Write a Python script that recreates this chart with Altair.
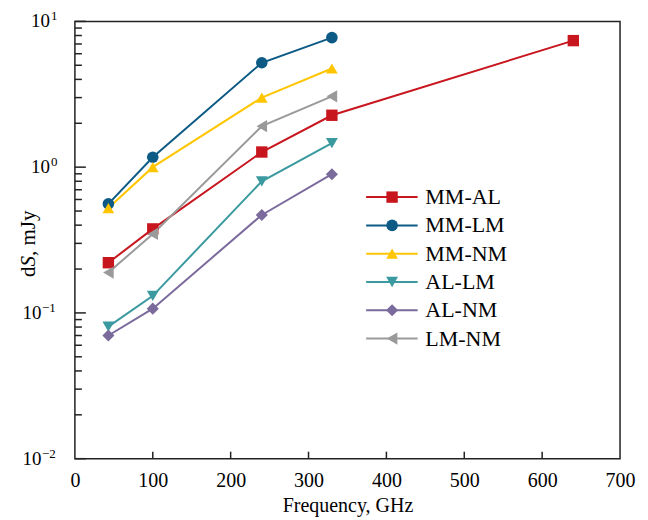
import altair as alt
import pandas as pd

# ---- data ----
series_names = ["MM-AL", "MM-LM", "MM-NM", "AL-LM", "AL-NM", "LM-NM"]
freq_mm_al = [43, 100, 240, 330, 640]
val_mm_al = [0.221, 0.377, 1.27, 2.27, 7.38]
freq_common = [43, 100, 240, 330]
val_mm_lm = [0.56, 1.17, 5.2, 7.74]
val_mm_nm = [0.524, 1.0, 3.0, 4.75]
val_al_lm = [0.0806, 0.131, 0.80, 1.46]
val_al_nm = [0.070, 0.107, 0.47, 0.895]
val_lm_nm = [0.189, 0.348, 1.91, 3.06]

colors = ["#C8161E", "#0D5A85", "#FFC600", "#3A9AA0", "#7B6A9C", "#9A9A9A"]
shapes = ["square", "circle", "triangle-up", "triangle-down", "diamond", "triangle-left"]
sizes = [130, 150, 190, 190, 260, 190]

x_tick_vals = [100, 200, 300, 400, 500, 600]
x_label_vals = [0, 100, 200, 300, 400, 500, 600, 700]
y_major = [0.01, 0.1, 1, 10]
y_exps = ["\u22122", "\u22121", "0", "1"]
y_minor = [0.02, 0.03, 0.04, 0.05, 0.06, 0.07, 0.08, 0.09,
           0.2, 0.3, 0.4, 0.5, 0.6, 0.7, 0.8, 0.9,
           2, 3, 4, 5, 6, 7, 8, 9]
title_parts = ["d", "S", ", mJy"]

rows = []
for f, v in zip(freq_mm_al, val_mm_al):
    rows.append({"s": "MM-AL", "f": f, "v": v})
for name, vals in [("MM-LM", val_mm_lm), ("MM-NM", val_mm_nm), ("AL-LM", val_al_lm),
                   ("AL-NM", val_al_nm), ("LM-NM", val_lm_nm)]:
    for f, v in zip(freq_common, vals):
        rows.append({"s": name, "f": f, "v": v})
df = pd.DataFrame(rows)

FONT = "Liberation Serif"
W, H = 546, 438

xs = alt.Scale(domain=[0, 700], nice=False, zero=False)
ys = alt.Scale(type="log", domain=[0.01, 10], nice=False)
cs = alt.Scale(domain=series_names, range=colors)
ss = alt.Scale(domain=series_names, range=shapes)
zs = alt.Scale(domain=series_names, range=sizes)

x_axis = alt.Axis(values=x_label_vals, ticks=False, domain=False, grid=False,
                  labelFont=FONT, labelFontSize=20, labelColor="black",
                  labelPadding=12, labelOverlap=False, labelFlush=False,
                  title="Frequency, GHz", titleFont=FONT, titleFontSize=20,
                  titleFontWeight="normal", titleColor="black", titlePadding=5)

X = alt.X("f:Q", scale=xs, axis=x_axis)
Y = alt.Y("v:Q", scale=ys, axis=None)
C = alt.Color("s:N", scale=cs, legend=None)
S = alt.Shape("s:N", scale=ss, legend=None)
Z = alt.Size("s:N", scale=zs, legend=None)

lines = alt.Chart(df).mark_line(strokeWidth=2).encode(x=X, y=Y, color=C, detail="s:N")
points = alt.Chart(df).mark_point(filled=True, opacity=1, strokeWidth=0.8).encode(
    x=X, y=Y, color=C, shape=S, size=Z)

xt = alt.Chart(pd.DataFrame({"f": x_tick_vals})).mark_rule(color="#222", strokeWidth=1.5).encode(
    x=alt.X("f:Q", scale=xs, axis=x_axis), y=alt.value(H), y2=alt.value(H - 7))
ymaj = alt.Chart(pd.DataFrame({"v": y_major})).mark_rule(color="#222", strokeWidth=1.5).encode(
    y=alt.Y("v:Q", scale=ys, axis=None), x=alt.value(0), x2=alt.value(11))
ymin = alt.Chart(pd.DataFrame({"v": y_minor})).mark_rule(color="#222", strokeWidth=1.5).encode(
    y=alt.Y("v:Q", scale=ys, axis=None), x=alt.value(0), x2=alt.value(7))

lab_df = pd.DataFrame({"v": y_major, "e": y_exps})
ten_pos = alt.Chart(lab_df).transform_filter("datum.v >= 1").mark_text(
    text="10", align="right", baseline="middle", font=FONT, fontSize=19, color="black").encode(
    x=alt.value(-25), y=alt.Y("v:Q", scale=ys, axis=None))
ten_neg = alt.Chart(lab_df).transform_filter("datum.v < 1").mark_text(
    text="10", align="right", baseline="middle", font=FONT, fontSize=19, color="black").encode(
    x=alt.value(-33.5), y=alt.Y("v:Q", scale=ys, axis=None))
exp_pos = alt.Chart(lab_df).transform_filter("datum.v >= 1").mark_text(
    align="left", baseline="middle", font=FONT, fontSize=13, dy=-5, color="black").encode(
    x=alt.value(-24), y=alt.Y("v:Q", scale=ys, axis=None), text="e:N")
exp_neg = alt.Chart(lab_df).transform_filter("datum.v < 1").mark_text(
    align="left", baseline="middle", font=FONT, fontSize=13, dy=-5, color="black").encode(
    x=alt.value(-33), y=alt.Y("v:Q", scale=ys, axis=None), text="e:N")

tdf = pd.DataFrame({"t": title_parts})
t_d = alt.Chart(tdf).transform_filter("datum.t == 'd'").mark_text(
    angle=270, align="left", baseline="middle", font=FONT, fontSize=21, color="black").encode(
    x=alt.value(-46), y=alt.value(256), text="t:N")
t_s = alt.Chart(tdf).transform_filter("datum.t == 'S'").mark_text(
    angle=270, align="left", baseline="middle", font=FONT, fontSize=21, fontStyle="italic",
    color="black").encode(x=alt.value(-46), y=alt.value(245.5), text="t:N")
t_r = alt.Chart(tdf).transform_filter("datum.t == ', mJy'").mark_text(
    angle=270, align="left", baseline="middle", font=FONT, fontSize=21, color="black").encode(
    x=alt.value(-46), y=alt.value(235), text="t:N")

main = alt.layer(lines, points, xt, ymaj, ymin, ten_pos, ten_neg, exp_pos, exp_neg, t_d, t_s, t_r)

leg_df = pd.DataFrame({"s": series_names})
LY = alt.Y("s:N", scale=alt.Scale(type="point", domain=series_names, range=[176, 317.7], padding=0),
           axis=None)
leg_rule = alt.Chart(leg_df).mark_rule(strokeWidth=2).encode(
    x=alt.value(291.7), x2=alt.value(343.3), y=LY, color=C)
leg_pt = alt.Chart(leg_df).mark_point(filled=True, opacity=1, strokeWidth=0.8).encode(
    x=alt.value(317.7), y=LY, color=C, shape=S, size=Z)
leg_txt = alt.Chart(leg_df).mark_text(align="left", baseline="middle", font=FONT, fontSize=22,
                                      color="black").encode(x=alt.value(351), y=LY, text="s:N")
legend = alt.layer(leg_rule, leg_pt, leg_txt)

chart = alt.layer(main, legend).resolve_scale(y="independent").properties(
    width=W, height=H,
    autosize=alt.AutoSizeParams(type="none"),
    padding={"left": 67, "top": 13, "right": 20, "bottom": 59},
    background="white",
).configure_view(stroke="#222", strokeWidth=1.5)

chart.save("out.html", embed_options={"renderer": "svg", "actions": False})
